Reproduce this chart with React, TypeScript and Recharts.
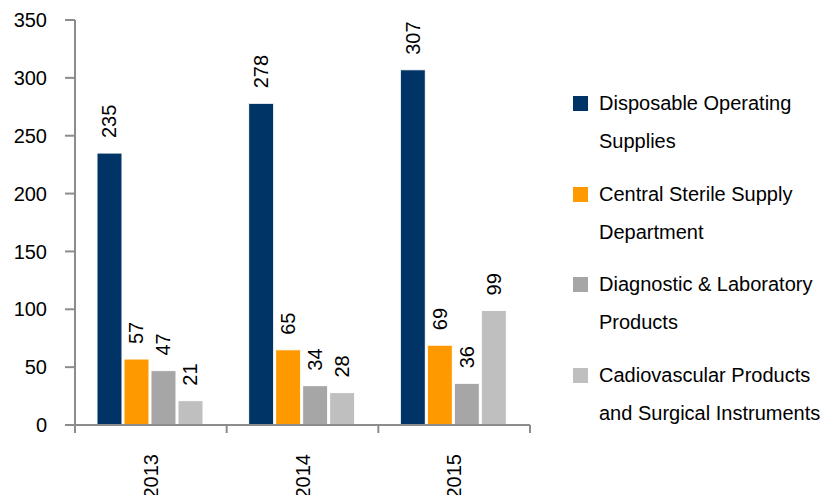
import { Bar, BarChart, LabelList, XAxis, YAxis } from "recharts";

const categories = ["2013", "2014", "2015"];
const disposable = [235, 278, 307];
const centralSterile = [57, 65, 69];
const diagnostic = [47, 34, 36];
const cardio = [21, 28, 99];

const seriesNames = [
  ["Disposable Operating", "Supplies"],
  ["Central Sterile Supply", "Department"],
  ["Diagnostic & Laboratory", "Products"],
  ["Cadiovascular Products", "and Surgical Instruments"],
];
const seriesKeys = ["disposable", "central", "diagnostic", "cardio"];
const seriesColors = ["#003366", "#FF9900", "#A6A6A6", "#BFBFBF"];
const yTicks = [0, 50, 100, 150, 200, 250, 300, 350];

const data = categories.map((year, i) => ({
  year,
  disposable: disposable[i],
  central: centralSterile[i],
  diagnostic: diagnostic[i],
  cardio: cardio[i],
}));

const FONT = "'Liberation Sans', Arial, sans-serif";
const FS = 20;
const AXIS = "#8c8c8c";

function ValueLabel(props: any) {
  const { x, y, width, value } = props;
  const cx = x + width / 2;
  const ty = y - 15;
  return (
    <text
      x={cx}
      y={ty}
      dy="0.35em"
      transform={`rotate(-90, ${cx}, ${ty})`}
      textAnchor="start"
      fontSize={FS}
      fontFamily={FONT}
      fill="#000"
    >
      {value}
    </text>
  );
}

function YearTick(props: any) {
  const { x, y, payload, index, width, visibleTicksCount } = props;
  const half = width / visibleTicksCount / 2;
  const top = y - 8;
  const ty = 454;
  return (
    <g>
      <line x1={x - half} x2={x - half} y1={top} y2={top + 8} stroke={AXIS} strokeWidth={2} />
      {index === visibleTicksCount - 1 && (
        <line x1={x + half} x2={x + half} y1={top} y2={top + 8} stroke={AXIS} strokeWidth={2} />
      )}
      <text
        x={x}
        y={ty}
        dy="0.35em"
        transform={`rotate(-90, ${x}, ${ty})`}
        textAnchor="end"
        fontSize={FS}
        fontFamily={FONT}
        fill="#000"
      >
        {payload.value}
      </text>
    </g>
  );
}

function LegendBox() {
  return (
    <div
      style={{
        position: "absolute",
        left: 573,
        top: 84,
        width: 261,
        fontFamily: FONT,
        fontSize: FS,
        color: "#000",
      }}
    >
      {seriesNames.map((lines, i) => (
        <div key={i} style={{ position: "relative", paddingLeft: 26, marginBottom: 14.7 }}>
          <span
            style={{
              position: "absolute",
              left: 0,
              top: 12,
              width: 15,
              height: 15,
              background: seriesColors[i],
            }}
          />
          {lines.map((l) => (
            <div key={l} style={{ lineHeight: "38px", whiteSpace: "nowrap" }}>
              {l}
            </div>
          ))}
        </div>
      ))}
    </div>
  );
}

export default function App() {
  return (
    <div style={{ position: "absolute", left: 0, top: 0, width: 834, height: 495, background: "#fff" }}>
      <BarChart
        width={834}
        height={495}
        data={data}
        margin={{ top: 20, right: 304, bottom: 0, left: 0 }}
        barCategoryGap="14.5%"
        barGap={2}
      >
        <YAxis
          width={75}
          domain={[0, 350]}
          ticks={yTicks}
          interval={0}
          tickSize={10}
          tickMargin={18}
          axisLine={{ stroke: AXIS, strokeWidth: 2 }}
          tickLine={{ stroke: AXIS, strokeWidth: 2 }}
          tick={{ fontSize: FS, fontFamily: FONT, fill: "#000" }}
        />
        <XAxis
          dataKey="year"
          height={70}
          axisLine={{ stroke: AXIS, strokeWidth: 2 }}
          tickLine={false}
          tick={<YearTick />}
          interval={0}
        />
        {seriesKeys.map((key, i) => (
          <Bar
            key={key}
            dataKey={key}
            name={seriesNames[i].join(" ")}
            fill={seriesColors[i]}
            stroke="#ffffff"
            strokeWidth={1}
            isAnimationActive={false}
          >
            <LabelList dataKey={key} content={<ValueLabel />} />
          </Bar>
        ))}
      </BarChart>
      <LegendBox />
    </div>
  );
}
